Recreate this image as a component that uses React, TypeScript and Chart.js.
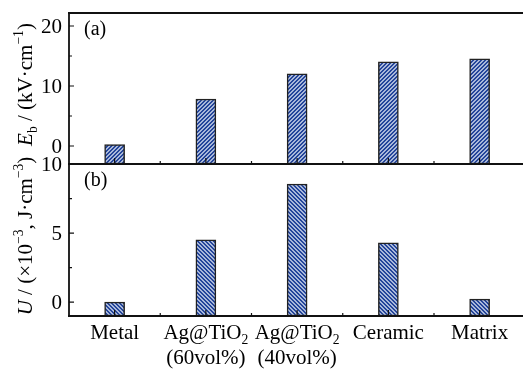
import React, { useEffect, useRef } from 'react';
import { Chart, registerables } from 'chart.js';
Chart.register(...registerables);

// ---- data ----
const categories = ['Metal', 'Ag@TiO₂\n(60vol%)', 'Ag@TiO₂\n(40vol%)', 'Ceramic', 'Matrix'];
const ebValues = [0.22, 7.83, 12.05, 14.05, 14.55];
const uValues = [0.0, 4.51, 8.55, 4.3, 0.22];
const ebMajorTicks = [0, 10, 20];
const ebMinorTicks = [5, 15];
const uMajorTicks = [0, 5, 10];
const uMinorTicks = [2.5, 7.5];
const ebRange = [-3, 22.17];
const uRange = [-1, 10.0];
const panelLabels = ['(a)', '(b)'];
type Part = [string, 'i' | 'n' | 'sub' | 'sup'];
const ebTitle: Part[] = [['E', 'i'], ['b', 'sub'], [' / (kV·cm', 'n'], ['−1', 'sup'], [')', 'n']];
const uTitle: Part[] = [['U', 'i'], [' / (×10', 'n'], ['−3', 'sup'], [', J·cm', 'n'], ['−3', 'sup'], [')', 'n']];

// ---- layout / style ----
const W = 523, H = 369;
const LEFT = 69, TOP = 13, MID = 164, BOTTOM = 316;
const FONT = '"Liberation Serif", "Times New Roman", serif';
const DARK = '#24459a', LIGHT = '#a9b8da';

function makePattern(dir: number) {
  const c = document.createElement('canvas');
  c.width = 4; c.height = 4;
  const g = c.getContext('2d')!;
  for (let px = 0; px < 4; px++) {
    for (let py = 0; py < 4; py++) {
      const k = dir > 0 ? (px + py) % 4 : ((px - py) % 4 + 4) % 4;
      g.fillStyle = k < 2 ? DARK : LIGHT;
      g.fillRect(px, py, 1, 1);
    }
  }
  return g.createPattern(c, 'repeat');
}

function partFont(style: string, size: number) {
  const s = style === 'sub' || style === 'sup' ? size * 0.65 : size;
  return (style === 'i' ? 'italic ' : '') + s + 'px ' + FONT;
}

function drawRich(ctx: CanvasRenderingContext2D, parts: Part[], cx: number, baseY: number, size: number) {
  let total = 0;
  for (const [t, st] of parts) { ctx.font = partFont(st, size); total += ctx.measureText(t).width; }
  let x = cx - total / 2;
  ctx.textAlign = 'left';
  ctx.textBaseline = 'alphabetic';
  for (const [t, st] of parts) {
    ctx.font = partFont(st, size);
    const dy = st === 'sub' ? size * 0.22 : st === 'sup' ? -size * 0.42 : 0;
    ctx.fillText(t, x, baseY + dy);
    x += ctx.measureText(t).width;
  }
}

function toParts(line: string): Part[] {
  const out: Part[] = [];
  let buf = '';
  for (const ch of line) {
    if (ch === '₂') { if (buf) out.push([buf, 'n']); buf = ''; out.push(['2', 'sub']); }
    else buf += ch;
  }
  if (buf) out.push([buf, 'n']);
  return out;
}

function panelPlugin(cfg: any) {
  return {
    id: 'panel' + cfg.key,
    afterDatasetsDraw(chart: any) {
      const { ctx, chartArea } = chart;
      const { left, top, right, bottom } = chartArea;
      const x = chart.scales.x, y = chart.scales.y;
      ctx.save();
      ctx.strokeStyle = '#111';
      ctx.fillStyle = '#000';
      // frame
      ctx.lineWidth = 1.8;
      ctx.beginPath();
      ctx.moveTo(left, top); ctx.lineTo(left, bottom);
      ctx.moveTo(left - 1, bottom); ctx.lineTo(right, bottom);
      if (cfg.drawTop) { ctx.moveTo(left - 1, top); ctx.lineTo(right, top); }
      ctx.stroke();
      // y ticks
      ctx.lineWidth = 1.2;
      ctx.beginPath();
      for (const v of cfg.major) { const py = y.getPixelForValue(v); ctx.moveTo(left, py); ctx.lineTo(left + 5, py); }
      for (const v of cfg.minor) { const py = y.getPixelForValue(v); ctx.moveTo(left, py); ctx.lineTo(left + 3, py); }
      // x ticks
      for (let i = 0; i < categories.length; i++) {
        const px = x.getPixelForValue(i); ctx.moveTo(px, bottom); ctx.lineTo(px, bottom - 6);
        if (i < categories.length - 1) { const pm = x.getPixelForValue(i + 0.5); ctx.moveTo(pm, bottom); ctx.lineTo(pm, bottom - 3); }
      }
      ctx.stroke();
      // y tick labels
      ctx.font = '21px ' + FONT;
      ctx.textAlign = 'right';
      ctx.textBaseline = 'middle';
      for (const v of cfg.major) ctx.fillText(String(v), left - 7, y.getPixelForValue(v) + 1);
      // panel label
      ctx.textAlign = 'left';
      ctx.textBaseline = 'alphabetic';
      ctx.font = '20px ' + FONT;
      ctx.fillText(cfg.label, left + 15, top + 22);
      // axis title
      ctx.save();
      ctx.translate(32, (top + bottom) / 2 - 4);
      ctx.rotate(-Math.PI / 2);
      drawRich(ctx, cfg.title, 0, 0, 21);
      ctx.restore();
      // category labels
      if (cfg.xLabels) {
        for (let i = 0; i < categories.length; i++) {
          const px = x.getPixelForValue(i);
          const lines = categories[i].split('\n');
          lines.forEach((ln, j) => drawRich(ctx, toParts(ln), px, bottom + 23 + j * 25, 21));
        }
      }
      ctx.restore();
    },
  };
}

function makeConfig(values: number[], range: number[], pattern: any, padTop: number, padBottom: number, plugin: any) {
  return {
    type: 'bar' as const,
    data: {
      datasets: [{
        data: values.map((v, i) => ({ x: i, y: v })),
        backgroundColor: pattern,
        borderColor: '#222',
        borderWidth: 1.5,
        borderSkipped: false,
        barThickness: 20,
        base: range[0],
      }],
    },
    options: {
      animation: false,
      responsive: false,
      events: [],
      layout: { padding: { left: LEFT, top: padTop, right: 0, bottom: padBottom } },
      scales: {
        x: { type: 'linear', offset: false, min: -0.5, max: -0.5 + (W - LEFT) / 91.25, display: false },
        y: { type: 'linear', min: range[0], max: range[1], display: false },
      },
      plugins: { legend: { display: false }, tooltip: { enabled: false } },
    },
    plugins: [plugin],
  };
}

export default function App() {
  const topRef = useRef<HTMLCanvasElement>(null);
  const botRef = useRef<HTMLCanvasElement>(null);
  useEffect(() => {
    document.body.style.margin = '0';
    const c1 = new Chart(topRef.current!, makeConfig(ebValues, ebRange, makePattern(1), TOP, H - MID,
      panelPlugin({ key: 'a', drawTop: true, major: ebMajorTicks, minor: ebMinorTicks, label: panelLabels[0], title: ebTitle, xLabels: false })) as any);
    const c2 = new Chart(botRef.current!, makeConfig(uValues, uRange, makePattern(-1), MID, H - BOTTOM,
      panelPlugin({ key: 'b', drawTop: false, major: uMajorTicks, minor: uMinorTicks, label: panelLabels[1], title: uTitle, xLabels: true })) as any);
    return () => { c1.destroy(); c2.destroy(); };
  }, []);
  const st: React.CSSProperties = { position: 'absolute', left: 0, top: 0, width: W, height: H };
  return (
    <div style={{ position: 'relative', width: W, height: H, background: '#fff' }}>
      <canvas ref={topRef} width={W} height={H} style={st} />
      <canvas ref={botRef} width={W} height={H} style={st} />
    </div>
  );
}
